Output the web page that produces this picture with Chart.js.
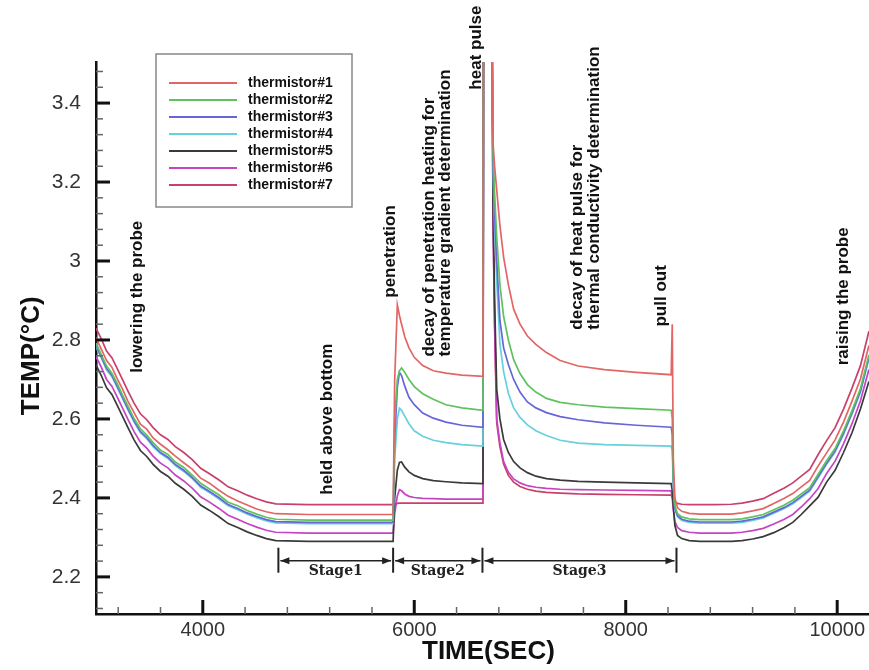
<!DOCTYPE html>
<html>
<head>
<meta charset="utf-8">
<title>Thermistor temperatures</title>
<script src="https://cdn.jsdelivr.net/npm/chart.js@4.4.1/dist/chart.umd.min.js"></script>
<style>
  html, body { margin: 0; padding: 0; background: #fff; }
  canvas { display: block; }
</style>
</head>
<body>
<canvas id="tempChart" width="869" height="670"></canvas>
<script>
// tiempo (s), compartido por todos los termistores
const time = [
  2990, 3040, 3090, 3140, 3190, 3240, 3290, 3350, 3410, 3470, 3530, 3600, 3670, 3740, 3820, 3900, 3980, 4060, 4150, 4240, 4330, 4420, 4510, 4600, 4690,
  5000, 5400, 5800,
  5815, 5840, 5860, 5880, 5910, 5950, 6000, 6080, 6180, 6300, 6450, 6650,
  6655, 6735,
  6745, 6760, 6780, 6810, 6845, 6890, 6940, 7000, 7070, 7150, 7250, 7380, 7550, 7800, 8100, 8430,
  8440, 8450, 8465, 8490, 8530, 8600, 8700,
  8850, 9000, 9100, 9200, 9300, 9400, 9500, 9580, 9660, 9740, 9820, 9900, 9980, 10060, 10140, 10220, 10300
];

const thermistor1 = [
  2.806, 2.777, 2.748, 2.731, 2.702, 2.676, 2.646, 2.616, 2.587, 2.574, 2.552, 2.536, 2.522, 2.506, 2.489, 2.473, 2.450, 2.438, 2.420, 2.404, 2.392, 2.382, 2.372, 2.365, 2.360,
  2.358, 2.358, 2.358,
  2.700, 2.889, 2.862, 2.840, 2.808, 2.780, 2.756, 2.735, 2.722, 2.716, 2.711, 2.708,
  3.62, 3.62,
  3.300, 3.240, 3.180, 3.090, 3.010, 2.940, 2.878, 2.840, 2.810, 2.789, 2.768, 2.748, 2.734, 2.725, 2.718, 2.712,
  2.840, 2.500, 2.400, 2.375, 2.366, 2.361, 2.359,
  2.359, 2.359, 2.362, 2.367, 2.373, 2.386, 2.399, 2.411, 2.428, 2.444, 2.481, 2.514, 2.547, 2.592, 2.645, 2.701, 2.786
];
const thermistor2 = [
  2.792, 2.763, 2.734, 2.716, 2.690, 2.661, 2.634, 2.601, 2.575, 2.559, 2.540, 2.521, 2.510, 2.491, 2.477, 2.458, 2.437, 2.423, 2.408, 2.389, 2.380, 2.368, 2.359, 2.351, 2.346,
  2.344, 2.344, 2.344,
  2.600, 2.700, 2.722, 2.729, 2.718, 2.700, 2.682, 2.664, 2.650, 2.636, 2.628, 2.622,
  3.62, 3.62,
  3.280, 3.170, 3.060, 2.940, 2.860, 2.800, 2.750, 2.715, 2.687, 2.668, 2.652, 2.642, 2.636, 2.630, 2.626, 2.622,
  2.600, 2.450, 2.380, 2.360, 2.352, 2.347, 2.345,
  2.345, 2.345, 2.347, 2.352, 2.358, 2.370, 2.382, 2.394, 2.410, 2.426, 2.460, 2.494, 2.525, 2.570, 2.621, 2.677, 2.762
];
const thermistor3 = [
  2.786, 2.757, 2.728, 2.711, 2.683, 2.655, 2.627, 2.595, 2.568, 2.553, 2.533, 2.515, 2.503, 2.485, 2.470, 2.452, 2.430, 2.417, 2.401, 2.383, 2.373, 2.362, 2.353, 2.345, 2.340,
  2.338, 2.338, 2.338,
  2.550, 2.680, 2.718, 2.710, 2.683, 2.655, 2.636, 2.615, 2.602, 2.592, 2.584, 2.579,
  3.62, 3.62,
  3.260, 3.120, 3.000, 2.850, 2.780, 2.738, 2.700, 2.668, 2.643, 2.628, 2.616, 2.606, 2.598, 2.590, 2.584, 2.579,
  2.560, 2.440, 2.375, 2.355, 2.346, 2.341, 2.339,
  2.339, 2.339, 2.341, 2.346, 2.352, 2.364, 2.376, 2.388, 2.404, 2.420, 2.454, 2.488, 2.519, 2.564, 2.615, 2.671, 2.756
];
const thermistor4 = [
  2.782, 2.755, 2.724, 2.707, 2.680, 2.652, 2.624, 2.592, 2.565, 2.550, 2.530, 2.512, 2.500, 2.482, 2.467, 2.449, 2.427, 2.414, 2.398, 2.380, 2.370, 2.359, 2.350, 2.342, 2.337,
  2.335, 2.335, 2.335,
  2.500, 2.600, 2.627, 2.622, 2.607, 2.588, 2.570, 2.556, 2.546, 2.540, 2.535, 2.531,
  3.62, 3.62,
  3.240, 3.080, 2.950, 2.790, 2.720, 2.665, 2.628, 2.604, 2.585, 2.570, 2.558, 2.546, 2.539, 2.535, 2.533, 2.531,
  2.520, 2.430, 2.370, 2.352, 2.343, 2.338, 2.336,
  2.336, 2.336, 2.338, 2.343, 2.349, 2.361, 2.373, 2.385, 2.401, 2.417, 2.451, 2.485, 2.516, 2.561, 2.612, 2.668, 2.753
];
const thermistor5 = [
  2.737, 2.710, 2.679, 2.662, 2.635, 2.607, 2.579, 2.547, 2.520, 2.505, 2.485, 2.467, 2.455, 2.437, 2.422, 2.404, 2.382, 2.369, 2.353, 2.335, 2.325, 2.314, 2.305, 2.297, 2.292,
  2.290, 2.290, 2.290,
  2.400, 2.470, 2.490, 2.491, 2.478, 2.466, 2.457, 2.449, 2.444, 2.441, 2.438, 2.436,
  3.62, 3.62,
  3.150, 2.900, 2.675, 2.600, 2.548, 2.515, 2.492, 2.476, 2.464, 2.455, 2.449, 2.445, 2.442, 2.440, 2.438, 2.436,
  2.420, 2.380, 2.330, 2.305, 2.297, 2.292, 2.290,
  2.290, 2.290, 2.292, 2.296, 2.302, 2.312, 2.325, 2.338, 2.358, 2.380, 2.402, 2.440, 2.470, 2.515, 2.565, 2.625, 2.695
];
const thermistor6 = [
  2.758, 2.731, 2.700, 2.683, 2.656, 2.628, 2.600, 2.568, 2.541, 2.526, 2.506, 2.488, 2.476, 2.458, 2.443, 2.425, 2.403, 2.390, 2.374, 2.356, 2.346, 2.335, 2.326, 2.318, 2.313,
  2.311, 2.311, 2.311,
  2.360, 2.405, 2.421, 2.418, 2.410, 2.404, 2.401, 2.399, 2.398, 2.397, 2.397, 2.397,
  3.62, 3.62,
  3.120, 2.850, 2.600, 2.540, 2.492, 2.465, 2.448, 2.438, 2.431, 2.427, 2.424, 2.422, 2.421, 2.420, 2.419, 2.418,
  2.400, 2.370, 2.340, 2.325, 2.317, 2.313, 2.311,
  2.311, 2.311, 2.313, 2.317, 2.323, 2.334, 2.346, 2.358, 2.377, 2.398, 2.424, 2.462, 2.493, 2.537, 2.588, 2.646, 2.725
];
const thermistor7 = [
  2.830, 2.803, 2.772, 2.755, 2.728, 2.700, 2.672, 2.640, 2.613, 2.598, 2.578, 2.560, 2.548, 2.530, 2.515, 2.497, 2.475, 2.462, 2.446, 2.428, 2.418, 2.407, 2.398, 2.390, 2.385,
  2.383, 2.383, 2.383,
  2.384, 2.386, 2.387, 2.387, 2.387, 2.387, 2.387, 2.387, 2.387, 2.387, 2.387, 2.387,
  3.62, 3.62,
  3.100, 2.830, 2.590, 2.530, 2.486, 2.457, 2.440, 2.429, 2.422, 2.417, 2.414, 2.412, 2.410, 2.409, 2.408, 2.407,
  2.400, 2.395, 2.390, 2.386, 2.384, 2.383, 2.383,
  2.383, 2.384, 2.387, 2.392, 2.398, 2.412, 2.425, 2.438, 2.455, 2.472, 2.510, 2.545, 2.578, 2.625, 2.678, 2.735, 2.822
];

const seriesNames = ['thermistor#1', 'thermistor#2', 'thermistor#3', 'thermistor#4', 'thermistor#5', 'thermistor#6', 'thermistor#7'];
const seriesValues = [thermistor1, thermistor2, thermistor3, thermistor4, thermistor5, thermistor6, thermistor7];
const seriesColors = ['#e26666', '#5fc25f', '#6666d8', '#66d0dc', '#3a3a3a', '#c444c4', '#c8406c'];

const xTicks = [4000, 6000, 8000, 10000];
const yTicks = [2.2, 2.4, 2.6, 2.8, 3, 3.2, 3.4];

// notas verticales (posición en unidades de los ejes)
const notes = [
  { text: 'lowering the probe', t: 3385, v: 2.717 },
  { text: 'held above bottom', t: 5173, v: 2.408 },
  { text: 'penetration', t: 5770, v: 2.907 },
  { text: 'decay of penetration heating for', t: 6139, v: 2.758 },
  { text: 'temperature gradient determination', t: 6290, v: 2.758 },
  { text: 'heat pulse', t: 6584, v: 3.434 },
  { text: 'decay of heat pulse for', t: 7539, v: 2.826 },
  { text: 'thermal conductivity determination', t: 7700, v: 2.826 },
  { text: 'pull out', t: 8334, v: 2.834 },
  { text: 'raising the probe', t: 10057, v: 2.736 }
];

const stageEdges = [4715, 5800, 6645, 8480];
const stageNames = ['Stage1', 'Stage2', 'Stage3'];
const stageLevel = 2.241;

const FONT = "'Liberation Sans', Arial, Helvetica, sans-serif";

function vText(ctx, text, x, y) {
  ctx.save();
  ctx.translate(x, y);
  ctx.rotate(-Math.PI / 2);
  ctx.textAlign = 'left';
  ctx.textBaseline = 'middle';
  ctx.fillText(text, 0, 0);
  ctx.restore();
}

function arrowHead(ctx, x, y, dir) {
  ctx.beginPath();
  ctx.moveTo(x, y);
  ctx.lineTo(x - dir * 9, y - 3.5);
  ctx.lineTo(x - dir * 9, y + 3.5);
  ctx.closePath();
  ctx.fill();
}

const decorations = {
  id: 'decorations',
  afterDraw(chart) {
    const ctx = chart.ctx;
    const xs = chart.scales.x;
    const ys = chart.scales.y;
    const area = chart.chartArea;
    ctx.save();

    // marcas de los ejes hacia dentro
    for (let k = 7; k <= 26; k++) {
      const v = k * 400;
      if (v < xs.min || v > xs.max) continue;
      const px = xs.getPixelForValue(v);
      const major = v % 2000 === 0;
      ctx.strokeStyle = major ? '#111' : '#666';
      ctx.lineWidth = major ? 3 : 1.5;
      ctx.beginPath();
      ctx.moveTo(px, area.bottom);
      ctx.lineTo(px, area.bottom - (major ? 14 : 7));
      ctx.stroke();
    }
    for (let k = 53; k <= 87; k++) {
      const v = k * 0.04;
      const py = ys.getPixelForValue(v);
      const major = k % 5 === 0;
      ctx.strokeStyle = major ? '#111' : '#666';
      ctx.lineWidth = major ? 3 : 1.5;
      ctx.beginPath();
      ctx.moveTo(area.left, py);
      ctx.lineTo(area.left + (major ? 14 : 7), py);
      ctx.stroke();
    }

    // leyenda
    ctx.fillStyle = '#fff';
    ctx.fillRect(156, 54, 196, 153);
    ctx.strokeStyle = '#888';
    ctx.lineWidth = 1.5;
    ctx.strokeRect(156, 54, 196, 153);
    ctx.font = 'bold 14px ' + FONT;
    ctx.textAlign = 'left';
    ctx.textBaseline = 'middle';
    seriesNames.forEach((name, i) => {
      const y = 83 + i * 17;
      ctx.strokeStyle = seriesColors[i];
      ctx.lineWidth = 2;
      ctx.beginPath();
      ctx.moveTo(169, y);
      ctx.lineTo(237, y);
      ctx.stroke();
      ctx.fillStyle = '#111';
      ctx.fillText(name, 248, y);
    });

    // notas
    ctx.fillStyle = '#111';
    ctx.font = 'bold 17px ' + FONT;
    notes.forEach(n => {
      vText(ctx, n.text, xs.getPixelForValue(n.t), ys.getPixelForValue(n.v));
    });

    // etapas
    const sy = ys.getPixelForValue(stageLevel);
    ctx.strokeStyle = '#222';
    ctx.fillStyle = '#222';
    stageEdges.forEach(t => {
      const px = xs.getPixelForValue(t);
      ctx.lineWidth = 2;
      ctx.beginPath();
      ctx.moveTo(px, sy - 13);
      ctx.lineTo(px, sy + 12);
      ctx.stroke();
    });
    ctx.font = "bold 14px 'DejaVu Serif', serif";
    ctx.textAlign = 'center';
    stageNames.forEach((name, i) => {
      const a = xs.getPixelForValue(stageEdges[i]) + 2;
      const b = xs.getPixelForValue(stageEdges[i + 1]) - 2;
      ctx.lineWidth = 1.5;
      ctx.beginPath();
      ctx.moveTo(a, sy);
      ctx.lineTo(b, sy);
      ctx.stroke();
      arrowHead(ctx, a, sy, -1);
      arrowHead(ctx, b, sy, 1);
      ctx.fillText(name, (a + b) / 2, sy + 11);
    });

    // títulos de los ejes
    ctx.fillStyle = '#111';
    ctx.font = 'bold 26px ' + FONT;
    ctx.textAlign = 'center';
    ctx.textBaseline = 'middle';
    ctx.fillText('TIME(SEC)', (area.left + area.right) / 2 + 6, 652);
    ctx.save();
    ctx.translate(32, ys.getPixelForValue(2.76));
    ctx.rotate(-Math.PI / 2);
    ctx.fillText('TEMP(\u00B0C)', 0, 0);
    ctx.restore();

    ctx.restore();
  }
};

const ctx = document.getElementById('tempChart').getContext('2d');
new Chart(ctx, {
  type: 'line',
  data: {
    datasets: seriesValues.map((vals, i) => ({
      label: seriesNames[i],
      data: time.map((t, j) => ({ x: t, y: vals[j] })),
      borderColor: seriesColors[i],
      borderWidth: 1.7,
      pointRadius: 0,
      tension: 0,
      fill: false,
      clip: 0
    }))
  },
  options: {
    responsive: false,
    animation: false,
    layout: { padding: { top: 62, left: 0, right: 0, bottom: 0 } },
    plugins: {
      legend: { display: false },
      tooltip: { enabled: false }
    },
    scales: {
      x: {
        type: 'linear',
        min: 2990,
        max: 10300,
        grid: { display: false, drawTicks: false },
        border: { display: true, color: '#111', width: 2.5 },
        afterBuildTicks: scale => { scale.ticks = xTicks.map(v => ({ value: v })); },
        afterFit: scale => { scale.height = 56; },
        ticks: {
          padding: 4,
          maxRotation: 0,
          color: '#333',
          font: { family: FONT, size: 20 },
          callback: v => String(v)
        }
      },
      y: {
        min: 2.106,
        max: 3.504,
        grid: { display: false, drawTicks: false },
        border: { display: true, color: '#111', width: 2.5 },
        afterBuildTicks: scale => { scale.ticks = yTicks.map(v => ({ value: v })); },
        afterFit: scale => { scale.width = 96; },
        ticks: {
          padding: 15,
          color: '#333',
          font: { family: FONT, size: 21 },
          callback: v => String(v)
        }
      }
    }
  },
  plugins: [decorations]
});
</script>
</body>
</html>
